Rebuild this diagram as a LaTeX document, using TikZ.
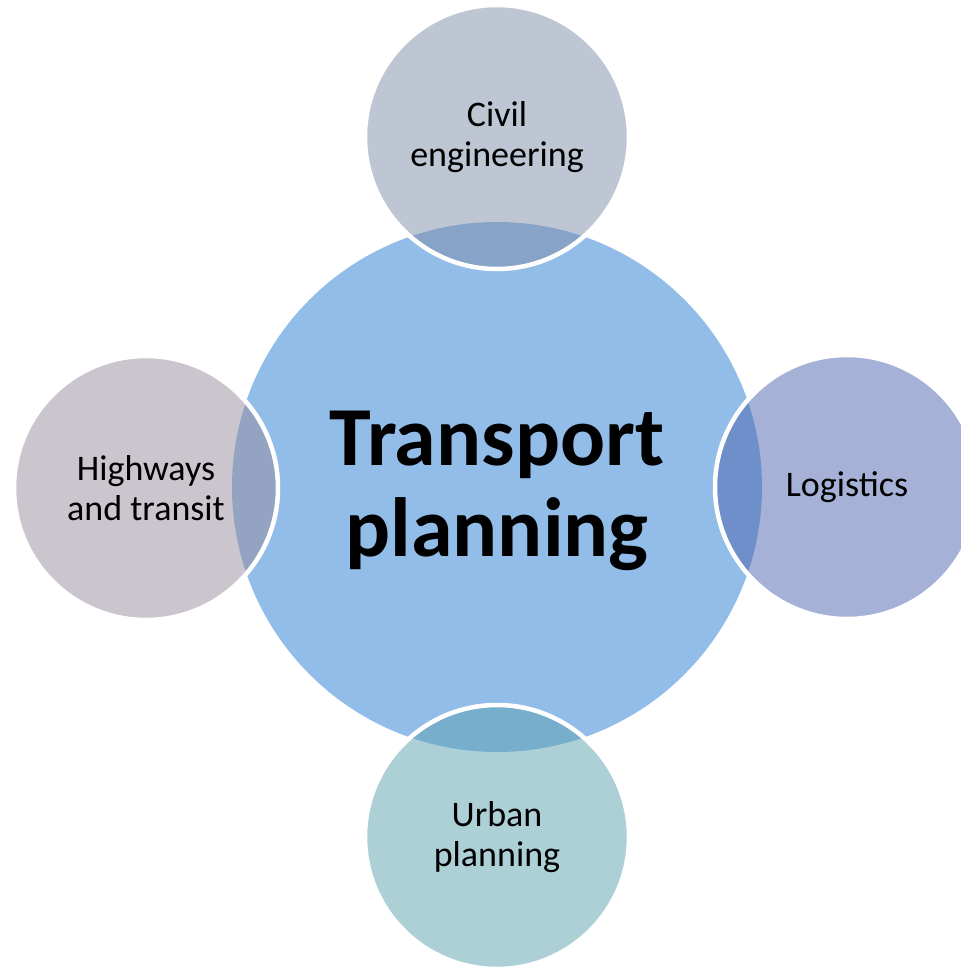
\documentclass[tikz,border=0pt]{standalone}
\usepackage{fontspec}
\setmainfont{Carlito}
\definecolor{central}{HTML}{92BDE8}
\definecolor{topc}{HTML}{7D8DA9}
\definecolor{leftc}{HTML}{978B9D}
\definecolor{rightc}{HTML}{4B63AD}
\definecolor{bottomc}{HTML}{5BA1AF}
\tikzset{
  hub/.style={circle, fill=central, minimum size=530pt, inner sep=0pt, align=center,
    font=\fontsize{84}{91}\selectfont\bfseries},
  satellite/.style={circle, fill=#1, fill opacity=0.5, text opacity=1, draw=white, line width=4.5pt,
    minimum size=264pt, inner sep=0pt, align=center, font=\fontsize{36}{40}\selectfont}
}
\begin{document}
\begin{tikzpicture}[x=1pt,y=-1pt]
\useasboundingbox (0,0) rectangle (961,967);
\clip (0,0) rectangle (961,967);
\node[hub] (hub) at (497,487) {};
\node[font=\fontsize{84}{91}\selectfont\bfseries, align=center, inner sep=0pt] (title) at (497,491) {Transport\\planning};
\node[satellite=topc] (civil) at (497,137) {Civil\\engineering};
\node[satellite=leftc] (high) at (146,488) {Highways\\and transit};
\node[satellite=rightc] (log) at (847,487) {Logistics};
\node[satellite=bottomc] (urban) at (497,837) {Urban\\planning};
\end{tikzpicture}
\end{document}
